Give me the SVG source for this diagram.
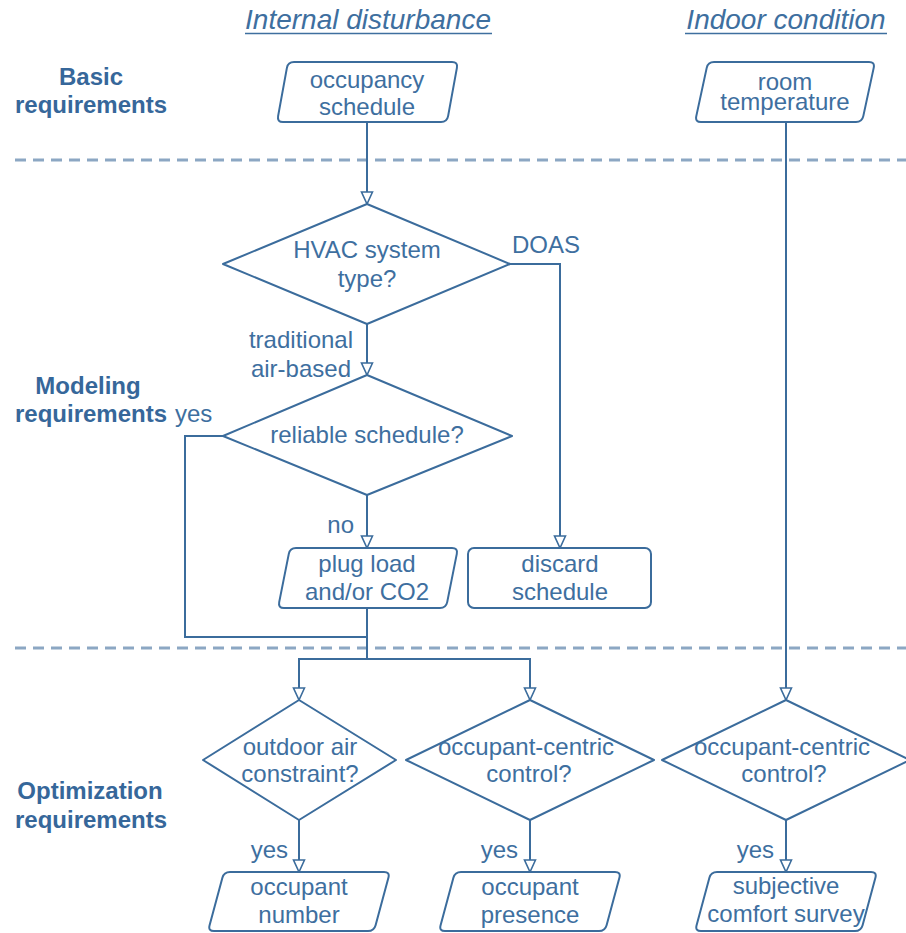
<svg xmlns="http://www.w3.org/2000/svg" width="906" height="933" viewBox="0 0 906 933">
  <style>
    text { font-family: "Liberation Sans", Arial, Helvetica, sans-serif; fill: #3e6f9f; }
    .t { font-size: 24px; text-anchor: middle; }
    .lbl { font-size: 24px; }
    .sec { font-size: 24px; font-weight: bold; text-anchor: middle; fill: #36679a; }
    .head { font-size: 28px; font-style: italic; text-anchor: middle; }
    .shape { fill: #ffffff; stroke: #3b6c9c; stroke-width: 2; stroke-linejoin: round; }
    .conn { fill: none; stroke: #3b6c9c; stroke-width: 2; }
    .divider { stroke: #8ca7c3; stroke-width: 3; stroke-dasharray: 11 7; }
    .uline { stroke: #3e6f9f; stroke-width: 1.6; }
  </style>
  <defs>
    <marker id="arrow" markerUnits="userSpaceOnUse" markerWidth="14" markerHeight="14" viewBox="0 0 14 14" refX="13" refY="7" orient="auto">
      <path d="M1,1.5 L13,7 L1,12.5 Z" fill="#ffffff" stroke="#3b6c9c" stroke-width="1.6" stroke-linejoin="miter"/>
    </marker>
  </defs>
  <rect width="906" height="933" fill="#ffffff"/>

  <!-- column headings -->
  <g id="headings">
    <text class="head" x="368" y="29">Internal disturbance</text>
    <line class="uline" x1="245" y1="33.5" x2="492" y2="33.5"/>
    <text class="head" x="786" y="29">Indoor condition</text>
    <line class="uline" x1="685" y1="33.5" x2="887" y2="33.5"/>
  </g>

  <!-- row labels -->
  <g id="row-labels">
    <text class="sec" x="91" y="85">Basic</text>
    <text class="sec" x="91" y="113">requirements</text>
    <text class="sec" x="88" y="394">Modeling</text>
    <text class="sec" x="91" y="422">requirements</text>
    <text class="sec" x="90" y="799">Optimization</text>
    <text class="sec" x="91" y="828">requirements</text>
  </g>

  <!-- section dividers -->
  <g id="dividers">
    <line class="divider" x1="15" y1="160" x2="906" y2="160"/>
    <line class="divider" x1="15" y1="648" x2="906" y2="648"/>
  </g>

  <!-- connectors -->
  <g id="connectors">
    <path class="conn" d="M367,122 V204" marker-end="url(#arrow)"/>
    <path class="conn" d="M510,264 H560 V548" marker-end="url(#arrow)"/>
    <path class="conn" d="M367,324 V375" marker-end="url(#arrow)"/>
    <path class="conn" d="M223,436 H185 V637 H367"/>
    <path class="conn" d="M367,495 V548" marker-end="url(#arrow)"/>
    <path class="conn" d="M367,608 V659"/>
    <path class="conn" d="M367,659 H299 V700" marker-end="url(#arrow)"/>
    <path class="conn" d="M367,659 H530 V700" marker-end="url(#arrow)"/>
    <path class="conn" d="M786,122 V700" marker-end="url(#arrow)"/>
    <path class="conn" d="M299,820 V872" marker-end="url(#arrow)"/>
    <path class="conn" d="M530,820 V872" marker-end="url(#arrow)"/>
    <path class="conn" d="M786,820 V872" marker-end="url(#arrow)"/>
  </g>

  <!-- connector labels -->
  <g id="connector-labels">
    <text class="lbl" x="512" y="253">DOAS</text>
    <text class="lbl" x="353" y="348" text-anchor="end">traditional</text>
    <text class="lbl" x="351" y="377" text-anchor="end">air-based</text>
    <text class="lbl" x="175" y="422">yes</text>
    <text class="lbl" x="354" y="533" text-anchor="end">no</text>
    <text class="lbl" x="288" y="858" text-anchor="end">yes</text>
    <text class="lbl" x="518" y="858" text-anchor="end">yes</text>
    <text class="lbl" x="774" y="858" text-anchor="end">yes</text>
  </g>

  <g id="occupancy-schedule">
    <path class="shape" d="M294,62 H452 Q458,62 456.9,67.9 L448.1,116.1 Q447,122 441,122 H283 Q277,122 278.1,116.1 L286.9,67.9 Q288,62 294,62 Z"/>
    <text class="t" x="367" y="88">occupancy</text>
    <text class="t" x="367" y="115">schedule</text>
  </g>

  <g id="room-temperature">
    <path class="shape" d="M714,62 H869 Q875,62 873.7,67.9 L863.3,116.1 Q862,122 856,122 H701 Q695,122 696.3,116.1 L706.7,67.9 Q708,62 714,62 Z"/>
    <text class="t" x="785" y="90">room</text>
    <text class="t" x="785" y="110">temperature</text>
  </g>

  <g id="hvac-type">
    <polygon class="shape" points="367,204 510,264 367,324 223,264"/>
    <text class="t" x="367" y="258">HVAC system</text>
    <text class="t" x="367" y="287">type?</text>
  </g>

  <g id="reliable-schedule">
    <polygon class="shape" points="367,375 512,436 367,495 223,436"/>
    <text class="t" x="367" y="443">reliable schedule?</text>
  </g>

  <g id="plug-load">
    <path class="shape" d="M296,548 H452 Q458,548 456.8,553.9 L447.2,602.1 Q446,608 440,608 H284 Q278,608 279.2,602.1 L288.8,553.9 Q290,548 296,548 Z"/>
    <text class="t" x="367" y="572">plug load</text>
    <text class="t" x="367" y="600">and/or CO2</text>
  </g>

  <g id="discard-schedule">
    <rect class="shape" x="468" y="548" width="183" height="60" rx="6"/>
    <text class="t" x="560" y="572">discard</text>
    <text class="t" x="560" y="600">schedule</text>
  </g>

  <g id="outdoor-air">
    <polygon class="shape" points="299,700 396,760 299,820 203,760"/>
    <text class="t" x="300" y="755">outdoor air</text>
    <text class="t" x="300" y="782">constraint?</text>
  </g>

  <g id="occupant-centric-1">
    <polygon class="shape" points="530,700 654,760 530,820 406,760"/>
    <text class="t" x="526" y="755">occupant-centric</text>
    <text class="t" x="529" y="782">control?</text>
  </g>

  <g id="occupant-centric-2">
    <polygon class="shape" points="786,700 910,760 786,820 662,760"/>
    <text class="t" x="782" y="755">occupant-centric</text>
    <text class="t" x="784" y="782">control?</text>
  </g>

  <g id="occupant-number">
    <path class="shape" d="M230,872 H384 Q390,872 388.4,877.8 L375.6,925.2 Q374,931 368,931 H214 Q208,931 209.6,925.2 L222.4,877.8 Q224,872 230,872 Z"/>
    <text class="t" x="299" y="895">occupant</text>
    <text class="t" x="299" y="923">number</text>
  </g>

  <g id="occupant-presence">
    <path class="shape" d="M461,872 H615 Q621,872 619.4,877.8 L606.6,925.2 Q605,931 599,931 H445 Q439,931 440.6,925.2 L453.4,877.8 Q455,872 461,872 Z"/>
    <text class="t" x="530" y="895">occupant</text>
    <text class="t" x="530" y="923">presence</text>
  </g>

  <g id="comfort-survey">
    <path class="shape" d="M717,872 H871 Q877,872 875.4,877.8 L862.6,925.2 Q861,931 855,931 H701 Q695,931 696.6,925.2 L709.4,877.8 Q711,872 717,872 Z"/>
    <text class="t" x="786" y="894">subjective</text>
    <text class="t" x="786" y="922">comfort survey</text>
  </g>
</svg>
